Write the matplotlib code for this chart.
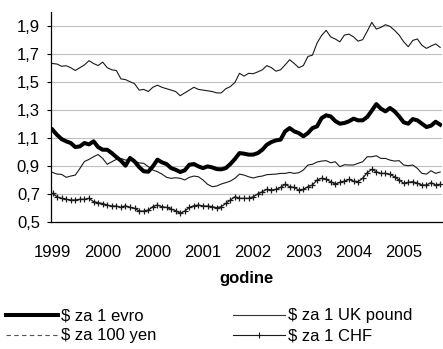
import matplotlib
matplotlib.use("Agg")
import matplotlib.pyplot as plt
from matplotlib.lines import Line2D
import numpy as np

plt.rcParams['font.family'] = ['Liberation Sans', 'DejaVu Sans']

# Monthly exchange rates (USD per unit), starting February 1999
evro = [1.157, 1.12, 1.09, 1.074, 1.062, 1.033, 1.038, 1.062, 1.052, 1.074,
        1.033, 1.014, 1.014, 0.99, 0.962, 0.936, 0.90, 0.955, 0.93, 0.89,
        0.86, 0.857, 0.895, 0.943, 0.924, 0.912, 0.883, 0.871, 0.855, 0.867,
        0.907, 0.912, 0.895, 0.883, 0.895, 0.888, 0.876, 0.874, 0.883, 0.912,
        0.948, 0.99, 0.986, 0.979, 0.979, 0.99, 1.014, 1.05, 1.069, 1.081,
        1.086, 1.145, 1.169, 1.145, 1.133, 1.11, 1.133, 1.169, 1.181, 1.24,
        1.26, 1.252, 1.219, 1.20, 1.205, 1.217, 1.236, 1.224, 1.224, 1.248,
        1.293, 1.34, 1.307, 1.288, 1.312, 1.288, 1.252, 1.21, 1.20, 1.233,
        1.224, 1.20, 1.176, 1.186, 1.214, 1.193]

uk_pound = [1.63, 1.626, 1.61, 1.614, 1.60, 1.58, 1.60, 1.62, 1.65, 1.63,
            1.615, 1.64, 1.60, 1.585, 1.58, 1.52, 1.515, 1.50, 1.485, 1.44,
            1.445, 1.43, 1.46, 1.475, 1.46, 1.45, 1.44, 1.43, 1.40, 1.42,
            1.44, 1.46, 1.445, 1.44, 1.435, 1.43, 1.42, 1.42, 1.45, 1.465,
            1.495, 1.56, 1.54, 1.56, 1.557, 1.57, 1.585, 1.615, 1.60, 1.575,
            1.585, 1.62, 1.657, 1.63, 1.60, 1.615, 1.68, 1.69, 1.776, 1.83,
            1.867, 1.82, 1.805, 1.785, 1.833, 1.84, 1.82, 1.79, 1.80, 1.86,
            1.924, 1.876, 1.888, 1.907, 1.895, 1.867, 1.833, 1.785, 1.75, 1.795,
            1.805, 1.76, 1.738, 1.755, 1.77, 1.745]

yen_100 = [0.852, 0.84, 0.838, 0.817, 0.826, 0.833, 0.88, 0.93, 0.945, 0.964,
           0.98, 0.952, 0.91, 0.928, 0.945, 0.952, 0.94, 0.945, 0.933, 0.92,
           0.917, 0.893, 0.869, 0.857, 0.84, 0.817, 0.81, 0.814, 0.81, 0.798,
           0.817, 0.826, 0.821, 0.798, 0.767, 0.75, 0.755, 0.769, 0.779, 0.79,
           0.81, 0.84, 0.833, 0.821, 0.812, 0.821, 0.826, 0.836, 0.838, 0.84,
           0.845, 0.845, 0.852, 0.845, 0.85, 0.869, 0.905, 0.91, 0.926, 0.933,
           0.936, 0.921, 0.928, 0.893, 0.907, 0.905, 0.905, 0.917, 0.928, 0.964,
           0.964, 0.971, 0.952, 0.952, 0.94, 0.933, 0.936, 0.905, 0.90, 0.905,
           0.881, 0.845, 0.84, 0.864, 0.845, 0.855]

chf = [0.702, 0.678, 0.667, 0.66, 0.655, 0.655, 0.66, 0.66, 0.667, 0.643,
       0.636, 0.63, 0.619, 0.612, 0.612, 0.602, 0.614, 0.602, 0.595, 0.576,
       0.576, 0.583, 0.607, 0.619, 0.607, 0.602, 0.59, 0.579, 0.56, 0.576,
       0.602, 0.614, 0.619, 0.612, 0.612, 0.607, 0.60, 0.607, 0.631, 0.655,
       0.678, 0.667, 0.667, 0.667, 0.678, 0.698, 0.714, 0.731, 0.726, 0.731,
       0.745, 0.767, 0.75, 0.745, 0.726, 0.731, 0.75, 0.762, 0.798, 0.81,
       0.802, 0.786, 0.769, 0.781, 0.79, 0.802, 0.79, 0.786, 0.81, 0.85,
       0.874, 0.857, 0.845, 0.845, 0.838, 0.821, 0.798, 0.774, 0.781, 0.786,
       0.774, 0.762, 0.762, 0.779, 0.762, 0.767]

tick_labels = ['1999', '2000', '2000', '2001', '2002', '2003', '2004', '2005']
tick_every = 11
y_ticks = [0.5, 0.7, 0.9, 1.1, 1.3, 1.5, 1.7, 1.9]
series_names = ['$ za 1 evro', '$ za 1 UK pound', '$ za 100 yen', '$ za 1 CHF']

W, H = 443, 349
fig = plt.figure(figsize=(W / 100, H / 100), dpi=100)
ax = fig.add_axes([51 / W, 1 - 221.7 / H, (442 - 51) / W, (221.7 - 11.7) / H])

x = np.arange(len(evro))
ax.plot(x, uk_pound, color='#1a1a1a', lw=0.8, zorder=3)
ax.plot(x, yen_100, color='#1a1a1a', lw=0.8, zorder=3)
ax.plot(x, chf, color='#1a1a1a', lw=0.9, marker='+', markersize=5,
        markeredgewidth=0.9, zorder=4)
ax.plot(x, evro, color='black', lw=2.9, solid_joinstyle='round', zorder=5)

ax.set_xlim(-0.33, 85.4)
ax.set_ylim(0.5, 2.0)
ax.set_yticks(y_ticks)
ax.set_yticklabels([f'{v:.1f}'.replace('.', ',') for v in y_ticks], fontsize=12)
ax.set_xticks(np.arange(len(tick_labels)) * tick_every)
ax.set_xticklabels(tick_labels, fontsize=12)
ax.tick_params(axis='x', length=0, pad=17)
ax.tick_params(axis='y', length=3, width=0.8, direction='out', pad=5)

for v in y_ticks[1:]:
    ax.axhline(v, color='#c0c0c0', lw=0.8, zorder=1)

for s in ['top', 'right']:
    ax.spines[s].set_visible(False)
for s in ['left', 'bottom']:
    ax.spines[s].set_linewidth(0.9)
    ax.spines[s].set_color('black')

fig.text(246.5 / W, 1 - 279 / H, 'godine', ha='center', va='center',
         fontsize=12, fontweight='bold')

handles = [
    Line2D([], [], color='black', lw=2.9),
    Line2D([], [], color='#555555', lw=0.8, ls=(0, (4, 3))),
    Line2D([], [], color='#333333', lw=0.8),
    Line2D([], [], color='#1a1a1a', lw=0.8, marker='+', markersize=5,
           markeredgewidth=0.8, markevery=[1]),
]
labels = [series_names[0], series_names[2], series_names[1], series_names[3]]
leg = fig.legend(handles, labels, ncol=2, frameon=False, fontsize=12,
                 loc='upper left', bbox_to_anchor=(3 / W, 1 - 305 / H),
                 handlelength=3.1, handletextpad=0.2, columnspacing=4.6,
                 labelspacing=0.3, borderaxespad=0, borderpad=0.2)

fig.savefig('out.png', dpi=100)
